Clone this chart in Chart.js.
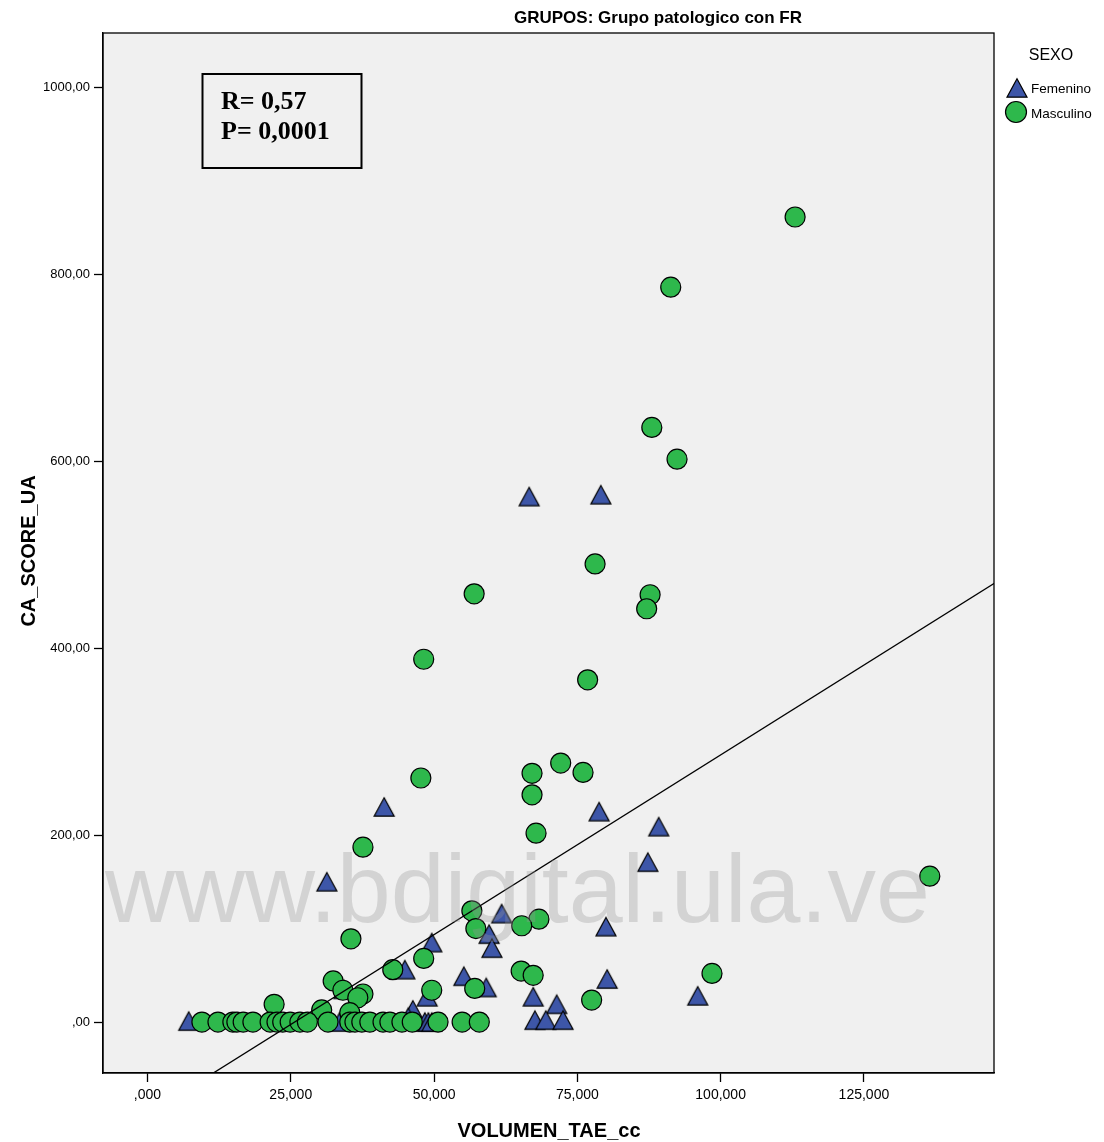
<!DOCTYPE html>
<html>
<head>
<meta charset="utf-8">
<title>CA_SCORE_UA vs VOLUMEN_TAE_cc</title>
<script src="https://cdn.jsdelivr.net/npm/chart.js@4/dist/chart.umd.min.js"></script>
<style>
  html, body { margin: 0; padding: 0; background: #ffffff; }
  canvas { display: block; }
</style>
</head>
<body>
<canvas id="chart" width="1104" height="1142"></canvas>
<script>
// ---- Data -------------------------------------------------------------
// Femenino (triangles)
const femeninoX = [79.1, 66.6, 41.3, 78.8, 89.2, 87.3, 31.3, 61.8, 80.0, 59.6,
                   49.6, 60.1, 44.9, 55.2, 59.1, 34.3, 80.2, 96.0, 67.3, 71.4,
                   48.8, 46.3, 67.6, 69.5, 72.5, 7.2, 48.4, 49.0, 49.6, 33.5, 45.5];
const femeninoY = [564, 562, 230, 225, 209, 171, 150, 116, 102, 94,
                   85, 79, 56, 49, 37, 35, 46, 28, 27, 19,
                   27, 13, 2, 2, 2, 1, 0, 0, 0, 0, 5];

// Masculino (circles)
const masculinoX = [113.0, 91.3, 88.0, 92.4, 78.1, 87.7, 87.1, 57.0, 48.2, 76.8,
                    72.1, 76.0, 67.1, 47.7, 67.1, 67.8, 37.6, 136.5, 56.6, 57.3,
                    68.3, 65.3, 35.5, 48.2, 42.8, 65.2, 67.3, 98.5, 32.4, 57.1,
                    49.6, 34.1, 37.6, 36.7, 77.5, 22.1, 30.4, 35.3,
                    9.5, 12.3, 14.9, 15.6, 16.7, 18.4, 21.4, 22.6, 23.6, 24.9,
                    26.6, 27.9, 31.5, 35.3, 36.2, 37.4, 38.8, 41.1, 42.3, 44.4,
                    46.2, 50.7, 54.9, 57.9];
const masculinoY = [861, 786, 636, 602, 490, 457, 442, 458, 388, 366,
                    277, 267, 266, 261, 243, 202, 187, 156, 119, 100,
                    110, 103, 89, 68, 56, 54.5, 50, 52, 44, 36,
                    34, 34, 30, 26, 23.5, 19, 13, 10,
                    0, 0, 0, 0, 0, 0, 0, 0, 0, 0,
                    0, 0, 0, 0, 0, 0, 0, 0, 0, 0,
                    0, 0, 0, 0];

// Linear fit (total)
const fitX = [0, 150];
const fitY = [-98.7, 477.9];

// Axis ticks
const xTickValues = [0, 25, 50, 75, 100, 125];
const xTickLabels = [",000", "25,000", "50,000", "75,000", "100,000", "125,000"];
const yTickValues = [0, 200, 400, 600, 800, 1000];
const yTickLabels = [",00", "200,00", "400,00", "600,00", "800,00", "1000,00"];

// Texts
const chartTitle = "GRUPOS: Grupo patologico con FR";
const xAxisTitle = "VOLUMEN_TAE_cc";
const yAxisTitle = "CA_SCORE_UA";
const legendTitle = "SEXO";
const seriesNames = ["Femenino", "Masculino"];
const statsLines = ["R= 0,57", "P= 0,0001"];
const watermarkText = "www.bdigital.ula.ve";

// ---- Styles -----------------------------------------------------------
const SANS = "'Liberation Sans', Arial, sans-serif";
const SERIF = "'Liberation Serif', 'Times New Roman', serif";
const BLUE = "#3D56A8";
const GREEN = "#2EB84C";
const PLOT_BG = "#F0F0F0";

// Triangle marker whose box centre sits on the value
function makeTriangle() {
  const c = document.createElement("canvas");
  c.width = 24; c.height = 22;
  const g = c.getContext("2d");
  g.beginPath();
  g.moveTo(12, 1.8);
  g.lineTo(22, 20.2);
  g.lineTo(2, 20.2);
  g.closePath();
  g.fillStyle = BLUE;
  g.fill();
  g.lineWidth = 1.2;
  g.strokeStyle = "#000";
  g.lineJoin = "miter";
  g.stroke();
  return c;
}
const triangleMarker = makeTriangle();

const toPoints = (xs, ys) => xs.map((x, i) => ({ x: x, y: ys[i] }));

// Background, frame, legend, annotation and titles
const decor = {
  id: "decor",
  beforeDraw(chart) {
    const a = chart.chartArea, ctx = chart.ctx;
    ctx.save();
    ctx.fillStyle = "#ffffff";
    ctx.fillRect(0, 0, chart.width, chart.height);
    ctx.fillStyle = PLOT_BG;
    ctx.fillRect(a.left, a.top, a.right - a.left, a.bottom - a.top);
    ctx.restore();
  },
  afterDraw(chart) {
    const a = chart.chartArea, ctx = chart.ctx;
    ctx.save();

    // watermark over the plot
    ctx.font = "97px " + SANS;
    ctx.fillStyle = "rgba(150,150,150,0.32)";
    ctx.textAlign = "left";
    ctx.textBaseline = "alphabetic";
    ctx.fillText(watermarkText, 105, 922);

    // plot frame
    ctx.strokeStyle = "#000";
    ctx.lineWidth = 1.3;
    ctx.strokeRect(a.left, a.top, a.right - a.left, a.bottom - a.top);

    // R / P box
    ctx.lineWidth = 2;
    ctx.strokeRect(202.5, 74, 159, 94);
    ctx.fillStyle = "#000";
    ctx.font = "bold 26px " + SERIF;
    ctx.fillText(statsLines[0], 221, 109);
    ctx.fillText(statsLines[1], 221, 139);

    // chart title
    ctx.font = "bold 17px " + SANS;
    ctx.textAlign = "center";
    ctx.fillText(chartTitle, 658, 23);

    // axis titles
    ctx.font = "bold 20px " + SANS;
    ctx.fillText(xAxisTitle, 549, 1137);
    ctx.save();
    ctx.translate(35, 551);
    ctx.rotate(-Math.PI / 2);
    ctx.fillText(yAxisTitle, 0, 0);
    ctx.restore();

    // legend
    ctx.font = "16px " + SANS;
    ctx.textBaseline = "middle";
    ctx.fillText(legendTitle, 1051, 56);
    ctx.drawImage(triangleMarker, 1017 - 12, 88 - 11);
    ctx.beginPath();
    ctx.arc(1016, 112, 10.5, 0, Math.PI * 2);
    ctx.fillStyle = GREEN;
    ctx.fill();
    ctx.lineWidth = 1.2;
    ctx.strokeStyle = "#000";
    ctx.stroke();
    ctx.fillStyle = "#000";
    ctx.textAlign = "left";
    ctx.font = "13.5px " + SANS;
    ctx.fillText(seriesNames[0], 1031, 89);
    ctx.fillText(seriesNames[1], 1031, 114);

    ctx.restore();
  }
};

new Chart(document.getElementById("chart").getContext("2d"), {
  type: "scatter",
  data: {
    datasets: [
      {
        type: "line",
        label: "Ajuste",
        data: toPoints(fitX, fitY),
        borderColor: "#000",
        borderWidth: 1.3,
        pointRadius: 0,
        fill: false,
        order: 0
      },
      {
        label: seriesNames[1],
        data: toPoints(masculinoX, masculinoY),
        pointStyle: "circle",
        pointRadius: 10,
        backgroundColor: GREEN,
        borderColor: "#000",
        borderWidth: 1.2,
        order: 1
      },
      {
        label: seriesNames[0],
        data: toPoints(femeninoX, femeninoY),
        pointStyle: triangleMarker,
        pointRadius: 11,
        order: 2
      }
    ]
  },
  options: {
    responsive: false,
    animation: false,
    devicePixelRatio: 1,
    layout: { padding: { top: 33, right: 110, left: 0, bottom: 0 } },
    plugins: {
      legend: { display: false },
      tooltip: { enabled: false },
      title: { display: false }
    },
    scales: {
      x: {
        type: "linear",
        min: -7.76,
        max: 147.7,
        afterFit(s) { s.height = 69; },
        afterBuildTicks(s) { s.ticks = xTickValues.map(v => ({ value: v })); },
        ticks: {
          callback: v => xTickLabels[xTickValues.indexOf(v)],
          font: { family: SANS, size: 14 },
          color: "#000",
          padding: 5,
          maxRotation: 0,
          autoSkip: false
        },
        grid: { drawOnChartArea: false, drawTicks: true, tickLength: 9, tickColor: "#000", tickWidth: 1.3 },
        border: { display: true, color: "#000", width: 1.3 }
      },
      y: {
        type: "linear",
        min: -54.5,
        max: 1057.8,
        afterFit(s) { s.width = 103; },
        afterBuildTicks(s) { s.ticks = yTickValues.map(v => ({ value: v })); },
        ticks: {
          callback: v => yTickLabels[yTickValues.indexOf(v)],
          font: { family: SANS, size: 13 },
          color: "#000",
          padding: 4,
          autoSkip: false
        },
        grid: { drawOnChartArea: false, drawTicks: true, tickLength: 9, tickColor: "#000", tickWidth: 1.3 },
        border: { display: true, color: "#000", width: 1.3 }
      }
    }
  },
  plugins: [decor]
});
</script>
</body>
</html>
